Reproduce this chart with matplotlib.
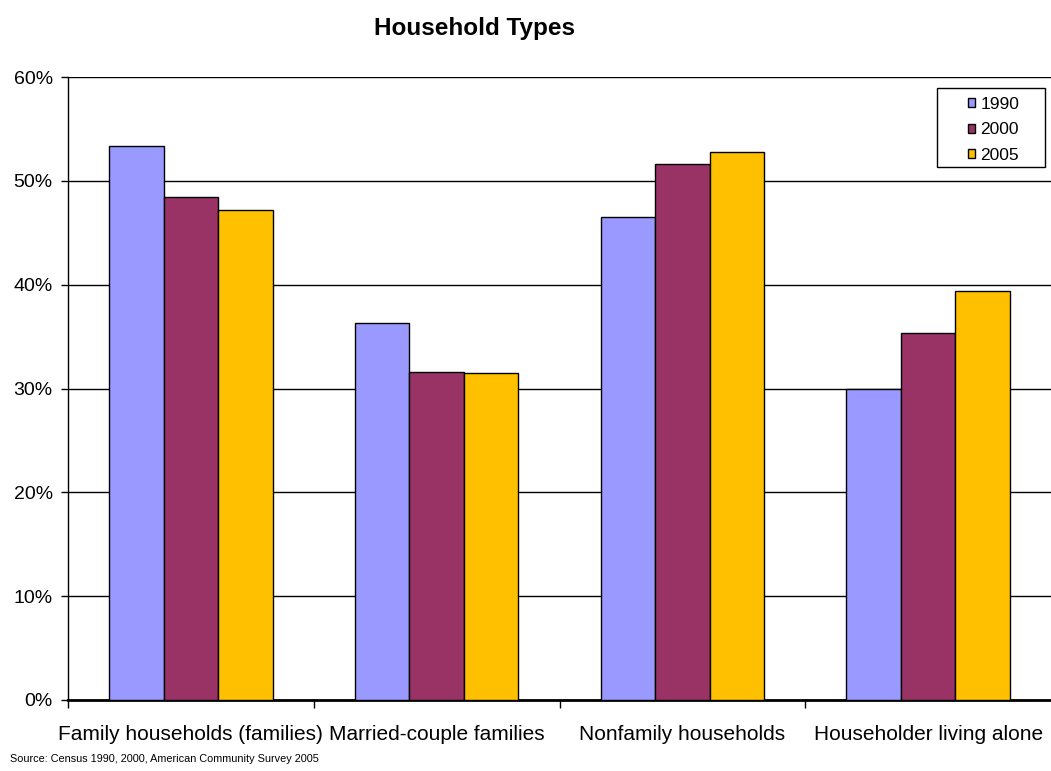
import matplotlib
matplotlib.use("Agg")
import matplotlib.pyplot as plt
import numpy as np
from matplotlib.ticker import FuncFormatter, FixedLocator
from matplotlib.patches import Rectangle

categories = ["Family households (families)", "Married-couple families",
              "Nonfamily households", "Householder living alone"]
years = ["1990", "2000", "2005"]
v1990 = [53.4, 36.3, 46.55, 30.0]
v2000 = [48.45, 31.6, 51.6, 35.3]
v2005 = [47.2, 31.45, 52.8, 39.4]
series = [v1990, v2000, v2005]
colors = ["#9999FF", "#993366", "#FFC000"]

plt.rcParams['font.family'] = ['Liberation Sans', 'DejaVu Sans']

W, H = 1051, 771
fig = plt.figure(figsize=(W/100, H/100), dpi=100)
ax = fig.add_axes([68/W, 1-700/H, (W-68)/W, (700-77)/H])

x = np.arange(len(categories))
bw = 0.222
for i, (vals, c, yr) in enumerate(zip(series, colors, years)):
    ax.bar(x + (i-1)*bw, vals, width=bw, color=c, edgecolor='black',
           linewidth=1.0, label=yr, zorder=3)

ax.set_xlim(-0.5, 3.5)
ax.set_ylim(0, 60)
ax.set_yticks(np.arange(0, 61, 10))
ax.yaxis.set_major_formatter(FuncFormatter(lambda v, p: f"{int(v)}%"))
ax.grid(axis='y', color='black', linewidth=1.0, zorder=0)
ax.set_axisbelow(True)

ax.set_xticks(x)
ax.set_xticklabels(categories, fontsize=15)
ax.xaxis.set_minor_locator(FixedLocator([-0.5, 0.5, 1.5, 2.5]))
ax.tick_params(axis='x', which='major', length=0, pad=18)
ax.tick_params(axis='x', which='minor', length=6, width=1, direction='out')
ax.tick_params(axis='y', length=5, width=1, labelsize=14, pad=6)

for s in ['top', 'right']:
    ax.spines[s].set_visible(False)
ax.spines['left'].set_linewidth(1.0)
ax.spines['bottom'].set_linewidth(2.0)

# legend frame drawn manually to match the reference box
fig.patches.append(Rectangle((937/W, 1-167/H), 108/W, 79/H, transform=fig.transFigure,
                             facecolor='white', edgecolor='black', linewidth=1.0, zorder=5))
leg = fig.legend(*ax.get_legend_handles_labels(), loc='upper left',
                 bbox_to_anchor=(968/W, 1-97/H), fontsize=12.5,
                 frameon=False, handlelength=0.4, handleheight=0.4,
                 handletextpad=0.3, labelspacing=0.6, borderpad=0.0,
                 borderaxespad=0.0)
leg.set_zorder(6)
for h in leg.legend_handles:
    h.set_linewidth(1.0)

fig.text(475/W, 1-28/H, "Household Types", ha='center', va='center',
         fontsize=17.5, fontweight='bold')
fig.text(10/W, 1-759/H, "Source: Census 1990, 2000, American Community Survey 2005",
         ha='left', va='center', fontsize=7.8)

fig.savefig("out.png", dpi=100)
